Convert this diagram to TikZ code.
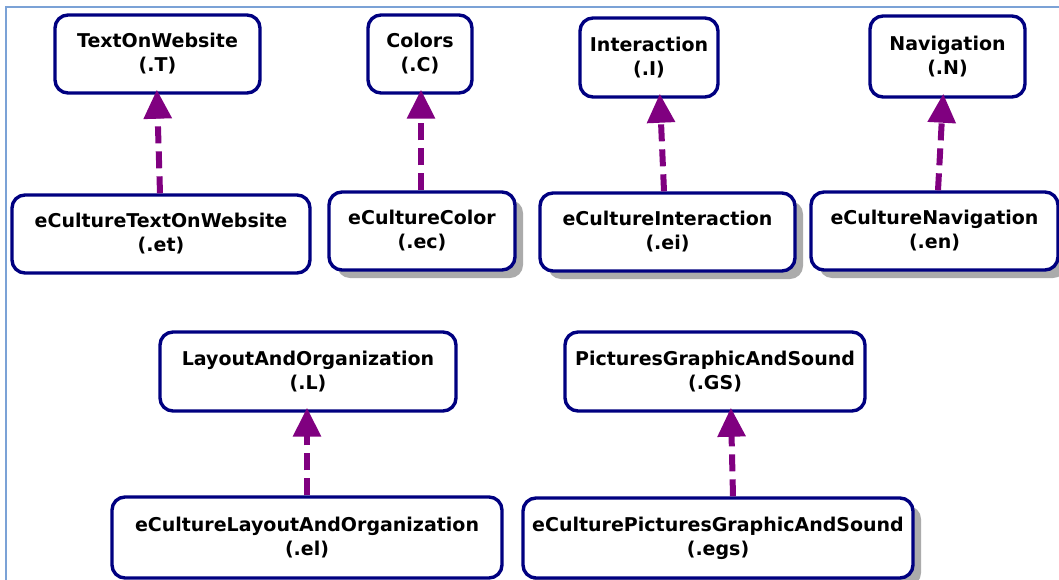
\documentclass[tikz,border=0pt]{standalone}
\usepackage{fontspec}
\setmainfont{DejaVu Sans}
\usetikzlibrary{arrows.meta,shadows}
\definecolor{boxline}{HTML}{000080}
\definecolor{relline}{HTML}{800080}
\definecolor{framecol}{HTML}{7BA2D6}
\tikzset{
  cls/.style={draw=boxline, line width=3.4pt, rounded corners=13pt, fill=white,
    align=center, font=\fontsize{19}{24}\selectfont\bfseries, inner sep=0pt},
  shade/.style={drop shadow={shadow xshift=8pt, shadow yshift=-8pt, fill=black!33, opacity=1}},
  rel/.style={draw=relline, line width=6pt, dash pattern=on 17pt off 8pt,
    -{Triangle[width=27pt,length=29pt]}, shorten >=-5pt},
}
\begin{document}
\begin{tikzpicture}[x=1pt,y=-1pt]
\useasboundingbox (0,0) rectangle (1059,579);
% outer frame
\draw[framecol, line width=2pt] (1062,7) -- (6,7) -- (6,582);

% top row: general concepts
\node[cls, minimum width=205pt, minimum height=78pt] (T) at (157.5,54) {TextOnWebsite\\(.T)};
\node[cls, minimum width=104pt, minimum height=78pt] (C) at (420,54) {Colors\\(.C)};
\node[cls, minimum width=138pt, minimum height=79pt] (I) at (649,57.5) {Interaction\\(.I)};
\node[cls, minimum width=155pt, minimum height=81pt] (N) at (947.5,56.5) {Navigation\\(.N)};

% second row: e-culture specialisations
\node[cls, minimum width=298pt, minimum height=78pt] (et) at (161,234) {eCultureTextOnWebsite\\(.et)};
\node[cls, shade, minimum width=186pt, minimum height=78pt] (ec) at (422,231) {eCultureColor\\(.ec)};
\node[cls, shade, minimum width=255pt, minimum height=78pt] (ei) at (667.5,232) {eCultureInteraction\\(.ei)};
\node[cls, shade, minimum width=247pt, minimum height=78pt] (en) at (934.5,231) {eCultureNavigation\\(.en)};

% third row
\node[cls, minimum width=296pt, minimum height=79pt] (L) at (308,371.5) {LayoutAndOrganization\\(.L)};
\node[cls, minimum width=300pt, minimum height=79pt] (GS) at (715,371.5) {PicturesGraphicAndSound\\(.GS)};

% bottom row
\node[cls, minimum width=390pt, minimum height=81pt] (el) at (307,537.5) {eCultureLayoutAndOrganization\\(.el)};
\node[cls, shade, minimum width=390pt, minimum height=80pt] (egs) at (718,538) {eCulturePicturesGraphicAndSound\\(.egs)};

% specialisation links
\draw[rel] ([xshift=-1pt]et.north) -- ([xshift=-0.5pt]T.south);
\draw[rel] ([xshift=-1pt]ec.north) -- ([xshift=1pt]C.south);
\draw[rel] ([xshift=-3.5pt]ei.north) -- ([xshift=11pt]I.south);
\draw[rel] ([xshift=3.5pt]en.north) -- ([xshift=-4.5pt]N.south);
\draw[rel] (el.north) -- ([xshift=-1pt]L.south);
\draw[rel] ([xshift=15pt]egs.north) -- ([xshift=16pt]GS.south);
\end{tikzpicture}
\end{document}
